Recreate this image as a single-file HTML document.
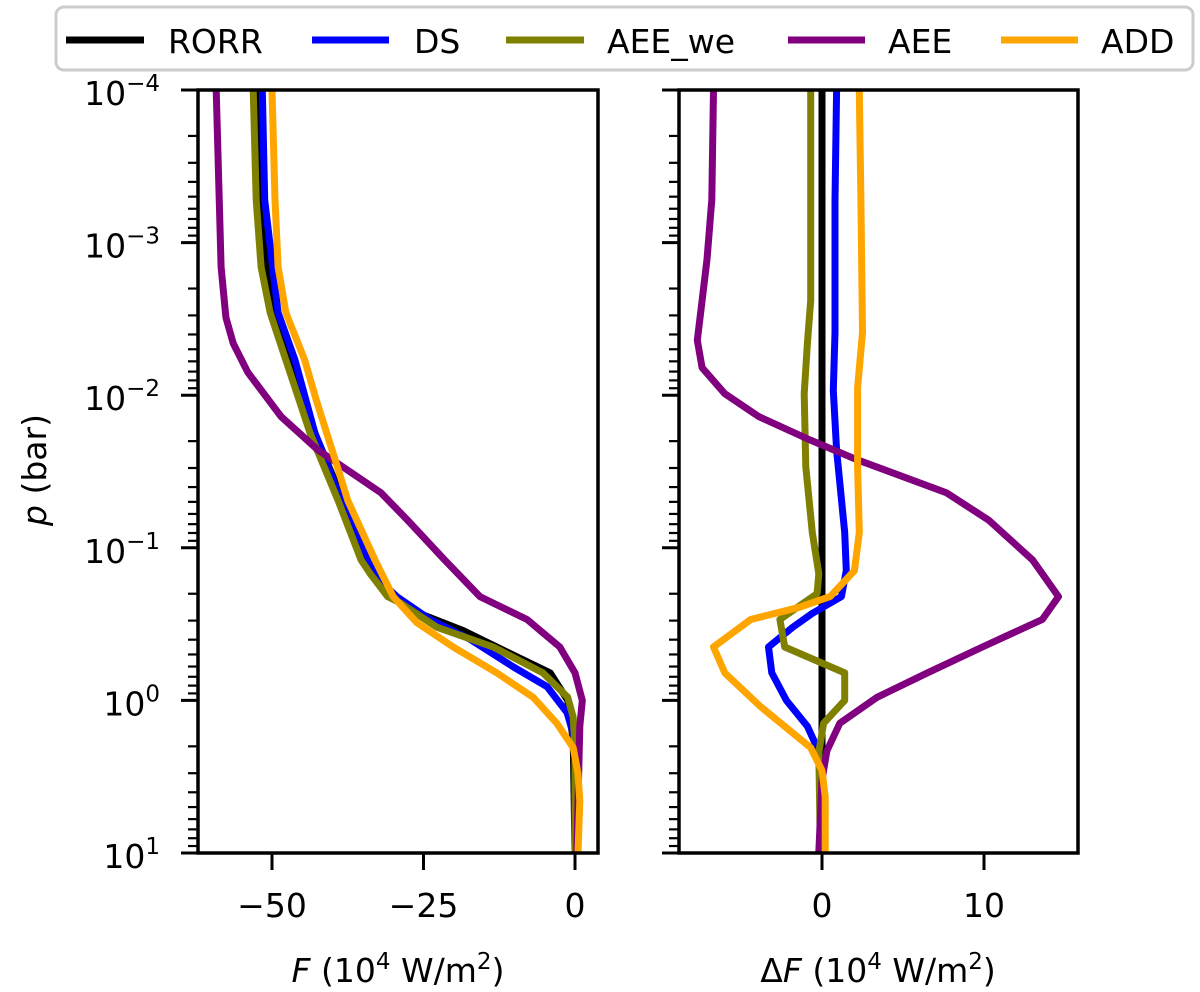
<!DOCTYPE html>
<html><head><meta charset="utf-8">
<style>
html,body{margin:0;padding:0;background:#fff;}
svg{display:block;font-family:"DejaVu Sans","Liberation Sans",sans-serif;}
</style></head>
<body>
<svg id="chart" width="1200" height="992" viewBox="0 0 1200 992" xmlns="http://www.w3.org/2000/svg">
  <g id="legend">
    <rect x="56" y="7" width="1137" height="63" rx="8" ry="8" fill="#fff" stroke="#cccccc" stroke-width="3"/>
    <g><line x1="66" y1="40" x2="144" y2="40" stroke="#000" stroke-width="7"/><text x="168" y="53" font-size="33">RORR</text></g>
    <g><line x1="312" y1="40" x2="389" y2="40" stroke="#0000ff" stroke-width="7"/><text x="414" y="53" font-size="33">DS</text></g>
    <g><line x1="506" y1="40" x2="584" y2="40" stroke="#808000" stroke-width="7"/><text x="607" y="53" font-size="33">AEE_we</text></g>
    <g><line x1="788" y1="40" x2="865" y2="40" stroke="#800080" stroke-width="7"/><text x="888" y="53" font-size="33">AEE</text></g>
    <g><line x1="1001" y1="40" x2="1078" y2="40" stroke="#ffa500" stroke-width="7"/><text x="1101" y="53" font-size="33">ADD</text></g>
  </g>
  <g id="left"></g>
  <g id="right"></g>
  <text transform="translate(46,470) rotate(-90)" text-anchor="middle" font-size="33"><tspan font-style="italic">p</tspan> (bar)</text>
  <text x="398" y="982" text-anchor="middle" font-size="33"><tspan font-style="italic">F</tspan> (10<tspan font-size="23" dy="-13">4</tspan><tspan dy="13"> W/m</tspan><tspan font-size="23" dy="-13">2</tspan><tspan dy="13">)</tspan></text>
  <text x="878" y="982" text-anchor="middle" font-size="33">Δ<tspan font-style="italic">F</tspan> (10<tspan font-size="23" dy="-13">4</tspan><tspan dy="13"> W/m</tspan><tspan font-size="23" dy="-13">2</tspan><tspan dy="13">)</tspan></text>
</svg>
<script>
// ---- data (log10 pressure in bar, flux in 1e4 W/m^2) ----
const yTickExps = [-4, -3, -2, -1, 0, 1];
const leftXTicks = [-50, -25, 0];
const leftXTickLabels = ["\u221250", "\u221225", "0"];
const rightXTicks = [0, 10];
const rightXTickLabels = ["0", "10"];

const rorrLeftP = [-4.0, -2.84, -2.54, -2.23, -1.75, -1.31, -0.92, -0.68, -0.57, -0.46, -0.33, -0.18, 0.0, 0.26, 1.0];
const rorrLeftF = [-52.3, -51.0, -49.5, -46.9, -42.9, -38.3, -34.5, -30.4, -25.7, -18.6, -11.9, -4.1, -1.2, -0.3, 0.0];
const dsLeftP = [-4.0, -3.28, -2.54, -2.23, -1.75, -1.31, -0.92, -0.74, -0.68, -0.53, -0.40, -0.22, -0.09, 0.08, 0.26, 0.44, 1.0];
const dsLeftF = [-51.6, -51.2, -49.0, -46.2, -42.9, -38.6, -34.2, -31.0, -29.4, -23.9, -17.3, -10.2, -4.6, -1.3, 0.0, 0.5, 0.5];
const aeeWeLeftP = [-4.0, -3.28, -2.84, -2.54, -2.23, -1.75, -1.31, -0.92, -0.83, -0.68, -0.64, -0.48, -0.35, -0.18, -0.02, 0.11, 0.31, 1.0];
const aeeWeLeftF = [-53.1, -52.6, -51.8, -50.3, -47.7, -43.7, -39.1, -35.3, -33.8, -30.9, -28.9, -22.8, -13.5, -5.3, -1.2, -0.3, 0.0, 0.0];
const aeeLeftP = [-4.0, -2.84, -2.51, -2.34, -2.15, -1.86, -1.64, -1.36, -1.18, -0.92, -0.68, -0.53, -0.35, -0.18, 0.0, 0.17, 1.0];
const aeeLeftF = [-59.2, -58.4, -57.6, -56.4, -54.0, -48.5, -42.4, -32.0, -27.6, -21.5, -15.7, -7.9, -2.5, 0.0, 1.2, 0.8, 0.3];
const addLeftP = [-4.0, -3.28, -2.84, -2.54, -2.23, -1.97, -1.58, -1.31, -0.92, -0.68, -0.51, -0.35, -0.18, -0.02, 0.15, 0.31, 0.48, 0.66, 1.0];
const addLeftF = [-50.0, -49.5, -49.0, -47.7, -44.6, -42.7, -39.6, -37.5, -33.0, -30.0, -26.1, -20.1, -12.9, -6.9, -3.0, -0.3, 0.5, 0.8, 0.5];

const rorrRightP = [-4.0, 1.0];
const rorrRightD = [0.0, 0.0];
const dsRightP = [-4.0, -3.28, -2.41, -2.03, -1.64, -1.10, -0.85, -0.68, -0.57, -0.48, -0.35, -0.18, 0.0, 0.17, 0.31, 0.48, 1.0];
const dsRightD = [0.9, 0.8, 0.8, 0.7, 0.9, 1.4, 1.5, 1.2, -0.6, -1.8, -3.3, -3.1, -2.2, -0.9, -0.3, 0.0, -0.1];
const aeeWeRightP = [-4.0, -2.62, -2.34, -2.01, -1.53, -1.10, -0.83, -0.70, -0.53, -0.35, -0.18, 0.0, 0.15, 0.34, 1.0];
const aeeWeRightD = [-0.7, -0.7, -0.9, -1.1, -1.0, -0.6, -0.2, -0.3, -2.6, -2.3, 1.4, 1.4, 0.1, -0.2, -0.1];
const aeeRightP = [-4.0, -3.28, -2.89, -2.62, -2.36, -2.18, -2.01, -1.86, -1.71, -1.58, -1.36, -1.18, -0.92, -0.68, -0.53, -0.35, -0.18, -0.02, 0.15, 0.33, 0.52, 1.0];
const aeeRightD = [-6.7, -6.8, -7.1, -7.4, -7.7, -7.4, -6.0, -3.9, -0.8, 2.1, 7.7, 10.3, 13.0, 14.6, 13.6, 9.9, 6.5, 3.4, 1.1, 0.3, 0.0, -0.2];
const addRightP = [-4.0, -3.28, -2.41, -2.05, -1.53, -1.10, -0.85, -0.68, -0.61, -0.53, -0.35, -0.18, 0.04, 0.31, 0.46, 0.63, 1.0];
const addRightD = [2.3, 2.4, 2.5, 2.2, 2.2, 2.3, 2.0, 0.5, -1.4, -4.4, -6.7, -6.0, -3.8, -0.7, 0.0, 0.2, 0.2];

const NS = "http://www.w3.org/2000/svg";
const TOP = 90, BOT = 853;
function yScale(lp){ return TOP + (lp - (-4)) / 5 * (BOT - TOP); }
function makeX(x0, x1, v0, v1){ return v => x0 + (v - v0) / (v1 - v0) * (x1 - x0); }
const leftX = makeX(272, 575, -50, 0);
const rightX = makeX(822, 984, 0, 10);

function el(tag, attrs, parent){
  const e = document.createElementNS(NS, tag);
  for (const k in attrs) e.setAttribute(k, attrs[k]);
  parent.appendChild(e);
  return e;
}

function drawSeries(g, xs, P, V, color, name){
  const pts = P.map((p, i) => xs(V[i]).toFixed(1) + "," + yScale(p).toFixed(1)).join(" ");
  const pl = el("polyline", {points: pts, fill: "none", stroke: color, "stroke-width": 7, "stroke-linejoin": "round"}, g);
  
  
}

function drawAxes(g, x0, x1, xs, ticks, labels, withYLabels, prefix){
  for (let e = -4; e <= 1; e++){
    const y = yScale(e);
    const t = el("line", {x1: x0 - 17, x2: x0, y1: y, y2: y, stroke: "#000", "stroke-width": 3}, g);
    
    
    if (e < 1){
      for (let m = 2; m <= 9; m++){
        const ym = yScale(e + Math.log10(m));
        const mt = el("line", {x1: x0 - 10, x2: x0, y1: ym, y2: ym, stroke: "#000", "stroke-width": 2.2}, g);
        
        
      }
    }
  }
  if (withYLabels){
    yTickExps.forEach(e => {
      const y = yScale(e);
      const txt = el("text", {x: 160, y: y + 15, "text-anchor": "end", "font-size": 33}, g);
      
      
      const a = document.createElementNS(NS, "tspan"); a.textContent = "10"; txt.appendChild(a);
      const b = document.createElementNS(NS, "tspan");
      b.setAttribute("font-size", "23"); b.setAttribute("dy", "-14");
      b.textContent = (e < 0 ? "\u2212" + (-e) : String(e)); txt.appendChild(b);
    });
  }
  ticks.forEach((v, i) => {
    const x = xs(v);
    const t = el("line", {x1: x, x2: x, y1: BOT, y2: BOT + 17, stroke: "#000", "stroke-width": 3}, g);
    
    
    const lab = el("text", {x: x, y: BOT + 64, "text-anchor": "middle", "font-size": 33}, g);
    lab.textContent = labels[i];
    
    
  });
  const frame = el("rect", {x: x0, y: TOP, width: x1 - x0, height: BOT - TOP, fill: "none", stroke: "#000", "stroke-width": 3.5}, g);
  
  
}

const L = document.getElementById("left");
const R = document.getElementById("right");
const defs = el("defs", {}, document.getElementById("chart"));
const c1 = el("clipPath", {id: "clipL"}, defs); el("rect", {x: 198, y: TOP, width: 400, height: BOT - TOP}, c1);
const c2 = el("clipPath", {id: "clipR"}, defs); el("rect", {x: 679, y: TOP, width: 399, height: BOT - TOP}, c2);
const LL = el("g", {"clip-path": "url(#clipL)"}, L);
const RL = el("g", {"clip-path": "url(#clipR)"}, R);

drawSeries(LL, leftX, rorrLeftP, rorrLeftF, "#000000", "rorr-line-left");
drawSeries(LL, leftX, dsLeftP, dsLeftF, "#0000ff", "ds-line-left");
drawSeries(LL, leftX, aeeWeLeftP, aeeWeLeftF, "#808000", "aee-we-line-left");
drawSeries(LL, leftX, aeeLeftP, aeeLeftF, "#800080", "aee-line-left");
drawSeries(LL, leftX, addLeftP, addLeftF, "#ffa500", "add-line-left");

drawSeries(RL, rightX, rorrRightP, rorrRightD, "#000000", "rorr-line-right");
drawSeries(RL, rightX, dsRightP, dsRightD, "#0000ff", "ds-line-right");
drawSeries(RL, rightX, aeeWeRightP, aeeWeRightD, "#808000", "aee-we-line-right");
drawSeries(RL, rightX, aeeRightP, aeeRightD, "#800080", "aee-line-right");
drawSeries(RL, rightX, addRightP, addRightD, "#ffa500", "add-line-right");

drawAxes(L, 198, 598, leftX, leftXTicks, leftXTickLabels, true, "left");
drawAxes(R, 679, 1078, rightX, rightXTicks, rightXTickLabels, false, "right");
</script>
</body></html>
